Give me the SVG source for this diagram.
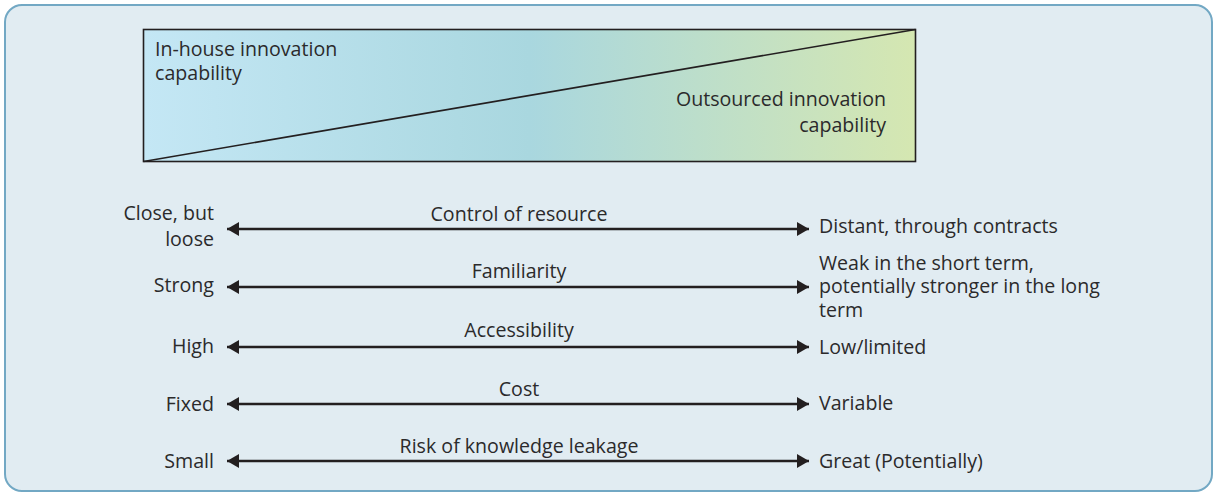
<svg xmlns="http://www.w3.org/2000/svg" width="1216" height="494" viewBox="0 0 1216 494">
<defs>
<linearGradient id="grad" x1="0" y1="0" x2="1" y2="0">
<stop offset="0" stop-color="#c4e7f5"/>
<stop offset="0.5" stop-color="#a9d7df"/>
<stop offset="1" stop-color="#d5e7b1"/>
</linearGradient>
<marker id="ah" viewBox="0 0 12 14" refX="12" refY="7" markerWidth="12" markerHeight="14" markerUnits="userSpaceOnUse" orient="auto-start-reverse">
<path d="M0,0 L12,7 L0,14 Z" fill="#231f20"/>
</marker>
<style>
text{font-family:"Open Sans","Liberation Sans",sans-serif;font-size:19.6px;fill:#2b2a2b}
.r{text-anchor:end}
.m{text-anchor:middle}
.arr{stroke:#231f20;stroke-width:2.3;fill:none;marker-start:url(#ah);marker-end:url(#ah)}
</style>
</defs>
<rect x="5" y="5" width="1207" height="486" rx="17" fill="#e1ecf2" stroke="#72a8c4" stroke-width="2"/>
<g id="capability-box">
<rect x="143.5" y="29.5" width="772" height="132" fill="url(#grad)" stroke="#231f20" stroke-width="1.6"/>
<line x1="143.5" y1="161.5" x2="915.5" y2="29.5" stroke="#231f20" stroke-width="1.6"/>
<text x="155" y="56">In-house innovation<tspan x="155" y="80">capability</tspan></text>
<text class="r" x="886" y="106">Outsourced innovation<tspan x="886" y="132">capability</tspan></text>
</g>
<g id="connectors">
<line class="arr" x1="227" y1="229" x2="809" y2="229"/>
<line class="arr" x1="227" y1="287" x2="809" y2="287"/>
<line class="arr" x1="227" y1="347" x2="809" y2="347"/>
<line class="arr" x1="227" y1="404" x2="809" y2="404"/>
<line class="arr" x1="227" y1="461" x2="809" y2="461"/>
</g>
<g id="row-control">
<text class="r" x="214" y="220">Close, but<tspan x="214" y="246">loose</tspan></text>
<text class="m" x="519" y="221">Control of resource</text>
<text x="819" y="233">Distant, through contracts</text>
</g>
<g id="row-familiarity">
<text class="r" x="214" y="292">Strong</text>
<text class="m" x="519" y="278">Familiarity</text>
<text x="819" y="270">Weak in the short term,<tspan x="819" y="293">potentially stronger in the long</tspan><tspan x="819" y="317">term</tspan></text>
</g>
<g id="row-accessibility">
<text class="r" x="214" y="353">High</text>
<text class="m" x="519" y="337">Accessibility</text>
<text x="819" y="354">Low/limited</text>
</g>
<g id="row-cost">
<text class="r" x="214" y="411">Fixed</text>
<text class="m" x="519" y="396">Cost</text>
<text x="819" y="410">Variable</text>
</g>
<g id="row-risk">
<text class="r" x="214" y="468">Small</text>
<text class="m" x="519" y="453">Risk of knowledge leakage</text>
<text x="819" y="468">Great (Potentially)</text>
</g>
</svg>
